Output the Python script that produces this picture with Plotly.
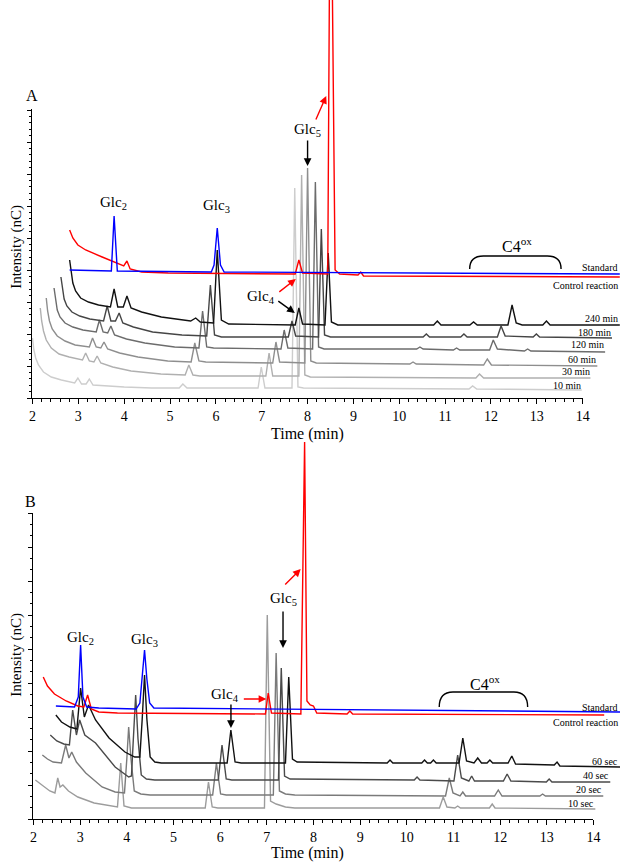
import plotly.graph_objects as go

W, H = 627, 863

# ---------------- Panel A data (time in min, intensity in nC, stacked offsets) ----------------
A_10_t = [2.00, 2.03, 2.07, 2.13, 2.24, 2.41, 2.63, 2.92, 2.99, 3.07, 3.17, 3.24, 3.32, 3.58, 4.00, 4.60, 5.20, 5.28, 5.37, 6.92, 6.99, 7.07, 7.66, 7.72, 7.79, 7.91, 11.52, 11.60, 11.69, 13.98]
A_10_i = [60, 48, 40, 33, 26, 21, 18, 15, 20, 14, 14, 19, 13, 12, 11, 10, 10, 14, 10, 10, 31, 10, 10, 210, 11, 10, 9, 12, 9, 8]

A_30_t = [2.17, 2.20, 2.24, 2.30, 2.41, 2.58, 2.80, 3.09, 3.16, 3.24, 3.34, 3.41, 3.49, 3.75, 4.15, 4.80, 5.33, 5.41, 5.50, 5.65, 7.09, 7.16, 7.24, 7.81, 7.87, 7.94, 8.06, 11.67, 11.75, 11.84, 14.17]
A_30_i = [90, 77, 67, 58, 50, 44, 41, 38, 45, 37, 36, 42, 35, 31, 27, 24, 23, 33, 23, 22, 22, 45, 22, 22, 223, 23, 21, 20, 24, 20, 20]

A_60_t = [2.30, 2.33, 2.37, 2.43, 2.54, 2.71, 2.93, 3.24, 3.31, 3.39, 3.49, 3.56, 3.64, 3.90, 4.30, 4.95, 5.46, 5.54, 5.63, 5.78, 7.24, 7.31, 7.39, 7.94, 8.00, 8.07, 8.19, 10.23, 10.30, 10.37, 11.84, 11.92, 12.01, 14.32]
A_60_i = [100, 87, 77, 69, 62, 57, 53, 51, 60, 51, 50, 56, 49, 45, 41, 37, 36, 55, 37, 36, 35, 56, 36, 35, 230, 37, 35, 34, 36, 34, 33, 39, 33, 32]

A_120_t = [2.47, 2.50, 2.54, 2.60, 2.71, 2.88, 3.10, 3.39, 3.46, 3.54, 3.64, 3.71, 3.79, 4.05, 4.45, 5.10, 5.63, 5.71, 5.80, 5.95, 7.42, 7.49, 7.57, 8.11, 8.17, 8.24, 8.36, 10.38, 10.45, 10.52, 11.18, 11.25, 11.32, 11.97, 12.05, 12.14, 12.73, 12.80, 12.87, 14.49]
A_120_i = [110, 98, 88, 81, 75, 71, 68, 66, 78, 66, 65, 72, 63, 59, 55, 51, 50, 87, 51, 50, 49, 68, 50, 49, 216, 51, 49, 49, 51, 49, 48, 50, 48, 48, 58, 49, 47, 49, 47, 46]

A_180_t = [2.62, 2.65, 2.69, 2.75, 2.86, 3.03, 3.25, 3.55, 3.63, 3.71, 3.81, 3.89, 3.97, 4.20, 4.62, 5.26, 5.80, 5.88, 5.97, 6.12, 7.58, 7.66, 7.74, 8.24, 8.30, 8.37, 8.50, 10.52, 10.59, 10.66, 11.34, 11.41, 11.48, 12.14, 12.22, 12.31, 12.92, 12.99, 13.06, 14.64]
A_180_i = [121, 109, 99, 92, 86, 82, 79, 77, 92, 77, 77, 85, 75, 71, 66, 63, 62, 113, 63, 61, 61, 77, 62, 61, 169, 63, 61, 61, 64, 61, 61, 64, 61, 61, 72, 62, 61, 64, 61, 60]

A_240_t = [2.81, 2.84, 2.88, 2.94, 3.05, 3.22, 3.44, 3.70, 3.78, 3.86, 3.98, 4.06, 4.15, 4.38, 4.81, 5.45, 5.56, 5.66, 5.95, 6.03, 6.12, 6.28, 7.73, 7.81, 7.89, 8.38, 8.45, 8.52, 8.66, 10.75, 10.83, 10.91, 11.54, 11.62, 11.70, 12.37, 12.46, 12.55, 12.68, 13.13, 13.21, 13.29, 14.81]
A_240_i = [138, 126, 115, 107, 100, 96, 93, 91, 109, 91, 91, 102, 90, 86, 81, 77, 80, 76, 75, 148, 78, 74, 73, 90, 74, 73, 145, 76, 73, 73, 77, 73, 73, 76, 73, 73, 93, 75, 73, 73, 77, 73, 73]

A_ctrl_t = [2.81, 2.88, 2.99, 3.16, 3.52, 3.84, 3.99, 4.06, 4.13, 4.38, 4.96, 7.73, 7.81, 7.89, 8.44, 8.50, 8.60, 8.70, 9.10, 9.16, 9.22, 14.81]
A_ctrl_i = [168, 160, 153, 148, 141, 135, 132, 137, 129, 126, 125, 124, 138, 125, 124, 600, 128, 124, 123, 126, 122, 121]

A_std_t = [2.81, 3.72, 3.78, 3.85, 5.90, 5.96, 6.03, 6.10, 6.18, 14.81]
A_std_i = [128, 127, 182, 127, 126, 133, 170, 133, 126, 124]

# ---------------- Panel B data ----------------
B_10_t = [2.04, 2.20, 2.35, 2.46, 2.52, 2.57, 2.63, 2.75, 2.95, 3.30, 3.80, 3.87, 3.94, 4.10, 5.68, 5.75, 5.83, 5.95, 6.95, 7.01, 7.08, 7.20, 7.40, 7.60, 10.70, 10.78, 10.86, 11.03, 11.09, 11.15, 11.77, 11.83, 11.89, 14.04]
B_10_i = [39, 33, 28, 26, 41, 32, 34, 28, 22, 16, 12, 56, 13, 11, 11, 37, 12, 11, 11, 204, 18, 15, 12, 11, 11, 22, 12, 11, 13, 11, 11, 15, 11, 10]

B_20_t = [2.19, 2.30, 2.42, 2.60, 2.69, 2.76, 2.82, 2.92, 3.12, 3.47, 3.75, 3.95, 4.00, 4.04, 4.09, 4.16, 4.30, 4.50, 5.84, 5.92, 6.01, 6.13, 7.14, 7.20, 7.27, 7.40, 7.60, 10.83, 10.91, 10.99, 11.14, 11.20, 11.26, 11.88, 11.96, 12.04, 12.85, 12.91, 12.97, 14.21]
B_20_i = [64, 60, 57, 56, 74, 61, 67, 57, 46, 32, 27, 26, 60, 92, 60, 28, 25, 24, 24, 56, 25, 24, 24, 166, 28, 25, 24, 23, 41, 26, 23, 27, 23, 23, 29, 23, 23, 25, 23, 23]

B_40_t = [2.36, 2.50, 2.65, 2.77, 2.84, 2.92, 2.99, 3.10, 3.33, 3.75, 4.04, 4.10, 4.14, 4.19, 4.24, 4.31, 4.42, 4.60, 5.96, 6.04, 6.13, 6.25, 7.25, 7.31, 7.38, 7.50, 10.16, 10.22, 10.28, 11.01, 11.09, 11.17, 11.33, 11.39, 11.45, 12.07, 12.15, 12.23, 12.99, 13.05, 13.11, 14.36]
B_40_i = [84, 78, 75, 74, 109, 84, 99, 84, 76, 52, 42, 43, 80, 124, 80, 44, 40, 39, 39, 74, 40, 39, 39, 151, 43, 40, 39, 42, 39, 38, 64, 41, 38, 43, 38, 38, 45, 38, 37, 40, 37, 37]

B_60_t = [2.48, 2.60, 2.78, 2.93, 3.01, 3.09, 3.18, 3.33, 3.62, 3.96, 4.17, 4.28, 4.33, 4.38, 4.43, 4.50, 4.60, 4.74, 6.15, 6.23, 6.32, 6.45, 7.40, 7.47, 7.55, 7.65, 9.58, 9.64, 9.70, 10.32, 10.38, 10.44, 10.51, 10.57, 10.63, 11.12, 11.20, 11.28, 11.44, 11.52, 11.60, 11.72, 11.78, 11.84, 12.17, 12.25, 12.33, 13.16, 13.22, 13.28, 14.57]
B_60_i = [104, 97, 92, 90, 131, 102, 114, 99, 81, 67, 62, 62, 100, 144, 100, 62, 57, 56, 56, 89, 57, 56, 56, 142, 60, 57, 56, 59, 56, 56, 59, 56, 56, 59, 56, 56, 81, 58, 56, 61, 56, 56, 59, 56, 56, 63, 55, 54, 57, 53, 52]

B_ctrl_t = [2.21, 2.30, 2.45, 2.70, 2.95, 3.08, 3.16, 3.24, 3.40, 3.80, 6.97, 7.03, 7.10, 7.73, 7.81, 7.86, 7.93, 8.00, 8.07, 8.72, 8.78, 8.84, 14.23]
B_ctrl_i = [142, 133, 125, 118, 113, 112, 124, 110, 107, 106, 105, 126, 106, 105, 377, 118, 114, 113, 106, 105, 108, 105, 104]

B_std_t = [2.48, 2.88, 2.96, 3.01, 3.06, 3.14, 3.40, 4.20, 4.28, 4.33, 4.38, 4.43, 4.49, 4.58, 14.57]
B_std_i = [113, 112, 122, 174, 122, 112, 111, 110, 116, 140, 169, 140, 116, 111, 107]

A_labels = ["10 min", "30 min", "60 min", "120 min", "180 min", "240 min"]
B_labels = ["10 sec", "20 sec", "40 sec", "60 sec"]
x_ticks = list(range(2, 15))

FONT = "Liberation Serif"

def px(x):
    return x / W

def py(y):
    return (H - y) / H

fig = go.Figure()

def add(t, i, color, xa, ya, width=1.4):
    fig.add_trace(go.Scatter(x=t, y=i, mode="lines", line=dict(color=color, width=width),
                             xaxis=xa, yaxis=ya, hoverinfo="skip", showlegend=False))

A_series = [(A_10_t, A_10_i, "#cdcdcd"), (A_30_t, A_30_i, "#b0b0b0"), (A_60_t, A_60_i, "#8e8e8e"),
            (A_120_t, A_120_i, "#6c6c6c"), (A_180_t, A_180_i, "#454545"), (A_240_t, A_240_i, "#111111")]
for t, i, c in A_series:
    add(t, i, c, "x", "y")
add(A_ctrl_t, A_ctrl_i, "#ff0000", "x", "y")
add(A_std_t, A_std_i, "#0000ff", "x", "y")

B_series = [(B_10_t, B_10_i, "#9c9c9c"), (B_20_t, B_20_i, "#7a7a7a"), (B_40_t, B_40_i, "#4a4a4a"),
            (B_60_t, B_60_i, "#111111")]
for t, i, c in B_series:
    add(t, i, c, "x3", "y3")
add(B_ctrl_t, B_ctrl_i, "#ff0000", "x3", "y3")
add(B_std_t, B_std_i, "#0000ff", "x3", "y3")

# invisible traces so the decorative axes render
fig.add_trace(go.Scatter(x=[None], y=[None], xaxis="x2", yaxis="y2", showlegend=False, hoverinfo="skip"))
fig.add_trace(go.Scatter(x=[None], y=[None], xaxis="x4", yaxis="y4", showlegend=False, hoverinfo="skip"))

# geometry
A_l, A_r, A_bot, A_top, A_axtop = 29, 589, 398, 0, 109
B_l, B_r, B_bot, B_top, B_axtop = 30, 600, 819, 438, 513
A_ppm = (A_r - A_l) / 12.0
B_ppm = (B_r - B_l) / 12.0

hidden = dict(visible=False, showgrid=False, zeroline=False)
deco_x = dict(showline=True, linecolor="black", linewidth=1.2, ticks="outside", ticklen=5, tickwidth=1,
              tickcolor="black", tickvals=x_ticks, ticktext=[str(v) for v in x_ticks],
              minor=dict(dtick=0.2, tick0=2, ticks="outside", ticklen=3, tickcolor="black"),
              showgrid=False, zeroline=False, range=[2, 14],
              tickfont=dict(family=FONT, size=14, color="black"), fixedrange=True)
deco_y = dict(showline=True, linecolor="black", linewidth=1.2, ticks="outside", ticklen=4, tickwidth=1,
              tickcolor="black", showticklabels=False, showgrid=False, zeroline=False, fixedrange=True)

fig.update_layout(
    width=W, height=H, margin=dict(l=0, r=0, t=0, b=0),
    paper_bgcolor="white", plot_bgcolor="rgba(0,0,0,0)", showlegend=False,
    font=dict(family=FONT, color="black"),
    xaxis=dict(domain=[0, 1], range=[2 - A_l / A_ppm, 2 + (W - A_l) / A_ppm], anchor="y", **hidden),
    yaxis=dict(domain=[py(A_bot), py(A_top)], range=[0, A_bot - A_top], anchor="x", **hidden),
    xaxis2=dict(domain=[px(A_l), px(A_r)], anchor="y2", **deco_x),
    yaxis2=dict(domain=[py(A_bot), py(A_axtop)], anchor="x2", range=[0, A_bot - A_axtop],
                dtick=32, minor=dict(dtick=6.4, ticks="outside", ticklen=2.5, tickcolor="black"), **deco_y),
    xaxis3=dict(domain=[0, 1], range=[2 - B_l / B_ppm, 2 + (W - B_l) / B_ppm], anchor="y3", **hidden),
    yaxis3=dict(domain=[py(B_bot), py(B_top)], range=[0, B_bot - B_top], anchor="x3", **hidden),
    xaxis4=dict(domain=[px(B_l), px(B_r)], anchor="y4", **deco_x),
    yaxis4=dict(domain=[py(B_bot), py(B_axtop)], anchor="x4", range=[0, B_bot - B_axtop],
                dtick=34, minor=dict(dtick=11.333, ticks="outside", ticklen=2.5, tickcolor="black"), **deco_y),
)

ann = []

def text(x, y, s, size=15, xanchor="center", angle=0):
    ann.append(dict(x=px(x), y=py(y), xref="paper", yref="paper", text=s, showarrow=False,
                    xanchor=xanchor, yanchor="middle", textangle=angle, borderpad=0,
                    font=dict(family=FONT, size=size, color="black")))

def arrow(hx, hy, tx, ty, color):
    ann.append(dict(x=px(hx), y=py(hy), xref="paper", yref="paper", text="", showarrow=True,
                    ax=tx - hx, ay=ty - hy, axref="pixel", ayref="pixel",
                    arrowhead=2, arrowsize=1.1, arrowwidth=1.4, arrowcolor=color, standoff=0, startstandoff=0))

# Panel A text
text(28, 95, "A", 16)
text(111, 203, "Glc<sub>2</sub>", 15)
text(216, 206, "Glc<sub>3</sub>", 15)
text(309, 130, "Glc<sub>5</sub>", 15)
text(262, 297, "Glc<sub>4</sub>", 15)
text(522, 245, "C4<sup>ox</sup>", 16)
text(12, 247, "Intensity (nC)", 15, angle=-90)
text(309, 434, "Time (min)", 16)
text(626, 267, "Standard", 10, "right")
text(626, 285, "Control reaction", 10, "right")
A_label_pos = [(588, 385), (597, 372), (604, 359), (612, 345), (619, 332), (626, 318)]
for lab, (x, y) in zip(A_labels, A_label_pos):
    text(x, y, lab, 10, "right")
arrow(309, 166, 309, 139, "black")
arrow(328, 96, 317, 121, "#ff0000")
arrow(296, 313, 278, 300, "black")
arrow(297, 279, 279, 293, "#ff0000")

# Panel B text
text(27, 501, "B", 16)
text(78, 638, "Glc<sub>2</sub>", 15)
text(143, 640, "Glc<sub>3</sub>", 15)
text(225, 695, "Glc<sub>4</sub>", 15)
text(284, 599, "Glc<sub>5</sub>", 15)
text(490, 683, "C4<sup>ox</sup>", 16)
text(12, 655, "Intensity (nC)", 15, angle=-90)
text(309, 853, "Time (min)", 16)
text(626, 707, "Standard", 10, "right")
text(626, 722, "Control reaction", 10, "right")
B_label_pos = [(602, 803), (610, 789), (617, 775), (626, 761)]
for lab, (x, y) in zip(B_labels, B_label_pos):
    text(x, y, lab, 10, "right")
arrow(231, 728, 231, 703, "black")
arrow(267, 699, 243, 699, "#ff0000")
arrow(284, 648, 284, 610, "black")
arrow(302, 569, 285, 586, "#ff0000")

fig.update_layout(annotations=ann)

def brace(x1, x2, ybase, ytop, r=14):
    pts = (f"M {px(x1)} {py(ybase)} Q {px(x1)} {py(ytop)} {px(x1 + r)} {py(ytop)} "
           f"L {px(x2 - r)} {py(ytop)} Q {px(x2)} {py(ytop)} {px(x2)} {py(ybase)}")
    return dict(type="path", path=pts, xref="paper", yref="paper", line=dict(color="black", width=1.4))

fig.update_layout(shapes=[brace(474, 567, 269, 256), brace(443, 533, 707, 692)])

fig.write_html("out.html", config={"staticPlot": True},
               post_script="document.body.style.margin='0';document.body.style.overflow='hidden';")
